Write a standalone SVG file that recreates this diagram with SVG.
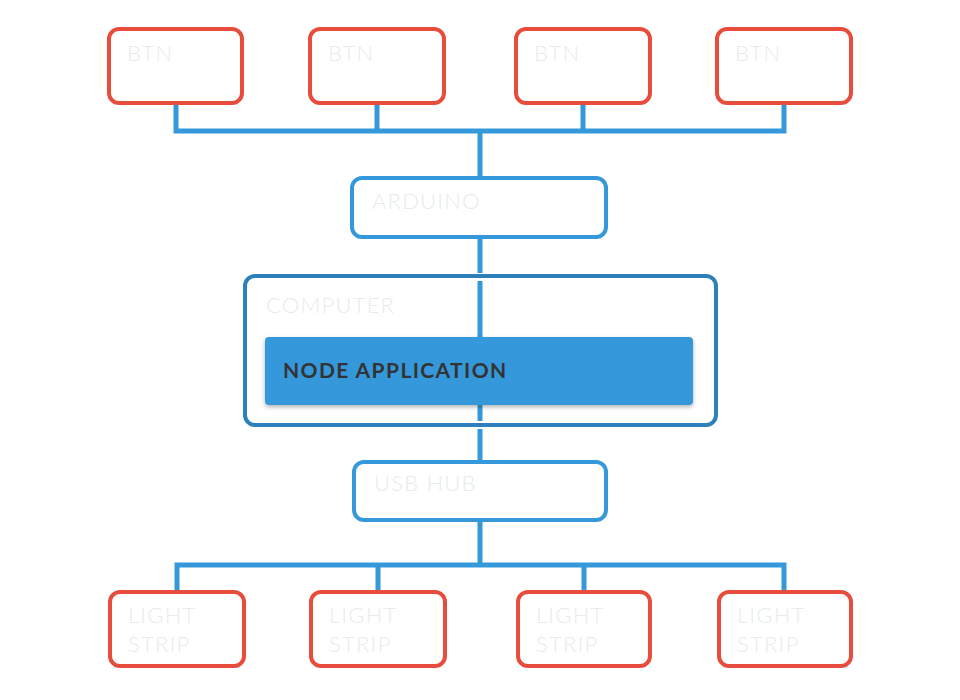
<svg xmlns="http://www.w3.org/2000/svg" width="960" height="700" viewBox="0 0 960 700">
  <defs>
    <filter id="shadow" x="-10%" y="-20%" width="120%" height="150%">
      <feDropShadow dx="0" dy="2" stdDeviation="2" flood-color="#000" flood-opacity="0.3"/>
    </filter>
  </defs>
  <style>
    .red { fill: #ffffff; stroke: #e74c3c; stroke-width: 4; }
    .blue { fill: #ffffff; stroke: #3498db; stroke-width: 4; }
    .comp { fill: none; stroke: #2e80ba; stroke-width: 4; }
    .lbl { font-family: Lato, "Liberation Sans", sans-serif; font-size: 22px; font-weight: 300; fill: #e6eced; letter-spacing: 1.2px; }
    .app { font-family: Lato, "Liberation Sans", sans-serif; font-size: 21px; font-weight: bold; fill: #333333; letter-spacing: 1.4px; }
    .wire { fill: none; stroke: #3498db; stroke-width: 5; }
  </style>
  <rect width="960" height="700" fill="#ffffff"/>

  <g id="connectors">
    <path class="wire" d="M176 103 V131 M377 103 V131 M583 103 V131 M784 103 V131 M173.5 131 H786.5 M480 131 V178"/>
    <path class="wire" d="M480 237 V273"/>
    <path class="wire" d="M480 281 V340"/>
    <path class="wire" d="M480 405 V421"/>
    <path class="wire" d="M480 429 V462"/>
    <path class="wire" d="M480 520 V565 M174.5 565 H786.5 M177 565 V592 M378 565 V592 M584 565 V592 M784 565 V592"/>
  </g>

  <g id="btn1"><rect class="red" x="109" y="29" width="133" height="74" rx="10"/><text class="lbl" x="127" y="61">BTN</text></g>
  <g id="btn2"><rect class="red" x="310" y="29" width="134" height="74" rx="10"/><text class="lbl" x="328" y="61">BTN</text></g>
  <g id="btn3"><rect class="red" x="516" y="29" width="134" height="74" rx="10"/><text class="lbl" x="534" y="61">BTN</text></g>
  <g id="btn4"><rect class="red" x="717" y="29" width="134" height="74" rx="10"/><text class="lbl" x="735" y="61">BTN</text></g>

  <g id="arduino"><rect class="blue" x="352" y="178" width="254" height="59" rx="10"/><text class="lbl" x="372" y="209">ARDUINO</text></g>

  <g id="computer">
    <rect class="comp" x="245" y="276" width="471" height="149" rx="10"/>
    <text class="lbl" x="266" y="313">COMPUTER</text>
  </g>
  <g id="node-application">
    <rect x="265" y="337" width="428" height="68" rx="4" fill="#3498db" filter="url(#shadow)"/>
    <text class="app" x="283" y="378">NODE APPLICATION</text>
  </g>

  <g id="usb-hub"><rect class="blue" x="354" y="462" width="252" height="58" rx="10"/><text class="lbl" x="374" y="491">USB HUB</text></g>

  <g id="strip1"><rect class="red" x="110" y="592" width="134" height="74" rx="10"/><text class="lbl" x="128" y="623">LIGHT</text><text class="lbl" x="128" y="652">STRIP</text></g>
  <g id="strip2"><rect class="red" x="311" y="592" width="134" height="74" rx="10"/><text class="lbl" x="329" y="623">LIGHT</text><text class="lbl" x="329" y="652">STRIP</text></g>
  <g id="strip3"><rect class="red" x="518" y="592" width="132" height="74" rx="10"/><text class="lbl" x="536" y="623">LIGHT</text><text class="lbl" x="536" y="652">STRIP</text></g>
  <g id="strip4"><rect class="red" x="719" y="592" width="132" height="74" rx="10"/><text class="lbl" x="737" y="623">LIGHT</text><text class="lbl" x="737" y="652">STRIP</text></g>
</svg>
